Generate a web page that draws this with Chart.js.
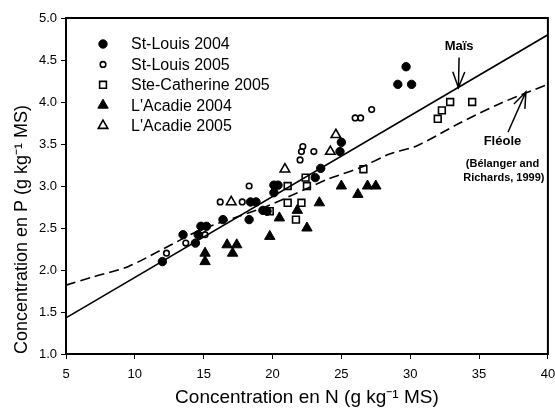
<!DOCTYPE html>
<html>
<head>
<meta charset="utf-8">
<script src="https://cdn.jsdelivr.net/npm/chart.js@4.4.1/dist/chart.umd.min.js"></script>
<style>
  html, body { margin: 0; padding: 0; background: #fff; }
</style>
</head>
<body>
<canvas id="npChart" width="555" height="411"></canvas>
<script>
  // Concentration en N (x) et en P (y), g/kg MS
  const stLouis2004N = [12.0, 13.5, 14.4, 14.6, 14.8, 15.2, 16.4, 18.3, 18.4, 18.8, 19.3, 19.6, 20.1, 20.1, 20.4, 23.1, 23.5, 24.9, 25.0, 29.1, 29.7, 30.1];
  const stLouis2004P = [2.10, 2.42, 2.32, 2.42, 2.52, 2.52, 2.60, 2.60, 2.81, 2.81, 2.71, 2.70, 2.92, 3.01, 3.01, 3.10, 3.21, 3.41, 3.52, 4.21, 4.42, 4.21];

  const stLouis2005N = [12.3, 13.7, 15.1, 16.2, 17.8, 18.3, 22.0, 22.1, 22.2, 23.0, 26.0, 26.4, 27.2];
  const stLouis2005P = [2.20, 2.32, 2.42, 2.81, 2.81, 3.00, 3.31, 3.41, 3.47, 3.41, 3.81, 3.81, 3.91];

  const steCatherine2005N = [19.8, 21.1, 21.1, 21.7, 22.1, 22.4, 22.5, 26.6, 32.0, 32.3, 32.9, 34.5];
  const steCatherine2005P = [2.70, 3.00, 2.80, 2.60, 2.80, 3.10, 3.00, 3.20, 3.80, 3.90, 4.00, 4.00];

  const lAcadie2004N = [15.1, 15.1, 16.7, 17.4, 17.1, 19.8, 20.5, 21.8, 22.5, 23.4, 25.0, 26.2, 26.9, 27.5];
  const lAcadie2004P = [2.20, 2.10, 2.30, 2.30, 2.20, 2.40, 2.62, 2.71, 2.50, 2.80, 3.00, 2.90, 3.00, 3.00];

  const lAcadie2005N = [17.0, 20.9, 24.2, 24.6];
  const lAcadie2005P = [2.81, 3.20, 3.41, 3.61];

  // droite du maïs
  const maisN = [5, 40];
  const maisP = [1.43, 4.80];

  // courbe fléole (Bélanger and Richards, 1999)
  const fleoleN = [5, 7, 9.5, 12.4, 14.8, 17.4, 19.6, 22.5, 24, 26.4, 28.5, 30.5, 33.6, 36.5, 40];
  const fleoleP = [1.82, 1.92, 2.04, 2.28, 2.48, 2.63, 2.76, 2.97, 3.08, 3.22, 3.38, 3.48, 3.75, 3.98, 4.21];

  // annotations (en unités des axes)
  const maisLabelAt = [33.55, 4.66];
  const maisArrowFrom = [33.55, 4.53];
  const maisArrowTo = [33.5, 4.17];
  const fleoleLabelAt = [36.7, 3.53];
  const refLine1At = [36.7, 3.26];
  const refLine2At = [36.8, 3.095];
  const fleoleArrowFrom = [37.1, 3.64];
  const fleoleArrowTo = [38.4, 4.12];

  const FONT = 'Arial, "Liberation Sans", Helvetica, sans-serif';
  Chart.defaults.font.family = FONT;
  Chart.defaults.color = "#000";

  function pts(xs, ys) {
    return xs.map((x, i) => ({ x: x, y: ys[i] }));
  }

  function drawArrow(ctx, x1, y1, x2, y2) {
    const ang = Math.atan2(y2 - y1, x2 - x1);
    const len = 17;
    ctx.beginPath();
    ctx.moveTo(x1, y1);
    ctx.lineTo(x2, y2);
    ctx.moveTo(x2 - len * Math.cos(ang - 0.36), y2 - len * Math.sin(ang - 0.36));
    ctx.lineTo(x2, y2);
    ctx.lineTo(x2 - len * Math.cos(ang + 0.36), y2 - len * Math.sin(ang + 0.36));
    ctx.stroke();
  }

  // cadre autour de la zone du graphique
  const framePlugin = {
    id: "frame",
    afterDatasetsDraw(chart) {
      const { ctx, chartArea: a } = chart;
      ctx.save();
      ctx.strokeStyle = "#000";
      ctx.lineWidth = 2;
      ctx.strokeRect(a.left, a.top, a.right - a.left, a.bottom - a.top);
      ctx.restore();
    },
  };

  // légende dans le coin haut gauche
  const legendPlugin = {
    id: "insideLegend",
    afterDatasetsDraw(chart) {
      const { ctx, chartArea: a } = chart;
      ctx.save();
      ctx.font = "16px " + FONT;
      ctx.textAlign = "left";
      ctx.textBaseline = "middle";
      chart.data.datasets.slice(0, 5).forEach((ds, i) => {
        const yy = a.top + 26 + i * 20.4;
        ctx.fillStyle = ds.backgroundColor;
        ctx.strokeStyle = ds.borderColor;
        ctx.lineWidth = ds.borderWidth;
        Chart.helpers.drawPoint(ctx, {
          pointStyle: ds.pointStyle,
          radius: ds.pointRadius,
          borderWidth: ds.borderWidth,
          rotation: 0,
        }, a.left + 37, yy);
        ctx.fillStyle = "#000";
        ctx.fillText(ds.label, a.left + 65, yy + 1);
      });
      ctx.restore();
    },
  };

  const annotationPlugin = {
    id: "annotations",
    afterDatasetsDraw(chart) {
      const { ctx } = chart;
      const sx = chart.scales.x, sy = chart.scales.y;
      const px = (p) => [sx.getPixelForValue(p[0]), sy.getPixelForValue(p[1])];
      ctx.save();
      ctx.fillStyle = "#000";
      ctx.strokeStyle = "#000";
      ctx.lineWidth = 1.5;
      ctx.textAlign = "center";
      ctx.textBaseline = "middle";

      ctx.font = "bold 13px " + FONT;
      let p = px(maisLabelAt);
      ctx.fillText("Maïs", p[0], p[1]);
      let a = px(maisArrowFrom), b = px(maisArrowTo);
      drawArrow(ctx, a[0], a[1], b[0], b[1]);

      p = px(fleoleLabelAt);
      ctx.fillText("Fléole", p[0], p[1]);
      a = px(fleoleArrowFrom);
      b = px(fleoleArrowTo);
      drawArrow(ctx, a[0], a[1], b[0], b[1]);

      ctx.font = "bold 11px " + FONT;
      p = px(refLine1At);
      ctx.fillText("(Bélanger and", p[0], p[1]);
      p = px(refLine2At);
      ctx.fillText("Richards, 1999)", p[0], p[1]);
      ctx.restore();
    },
  };

  const ctx = document.getElementById("npChart").getContext("2d");
  new Chart(ctx, {
    type: "scatter",
    data: {
      datasets: [
        {
          label: "St-Louis 2004",
          data: pts(stLouis2004N, stLouis2004P),
          pointStyle: "circle",
          pointRadius: 4.2,
          backgroundColor: "#000",
          borderColor: "#000",
          borderWidth: 1,
        },
        {
          label: "St-Louis 2005",
          data: pts(stLouis2005N, stLouis2005P),
          pointStyle: "circle",
          pointRadius: 2.8,
          backgroundColor: "rgba(0,0,0,0)",
          borderColor: "#000",
          borderWidth: 1.6,
        },
        {
          label: "Ste-Catherine 2005",
          data: pts(steCatherine2005N, steCatherine2005P),
          pointStyle: "rect",
          pointRadius: 4.8,
          backgroundColor: "rgba(0,0,0,0)",
          borderColor: "#000",
          borderWidth: 1.6,
        },
        {
          label: "L'Acadie 2004",
          data: pts(lAcadie2004N, lAcadie2004P),
          pointStyle: "triangle",
          pointRadius: 6,
          backgroundColor: "#000",
          borderColor: "#000",
          borderWidth: 1,
        },
        {
          label: "L'Acadie 2005",
          data: pts(lAcadie2005N, lAcadie2005P),
          pointStyle: "triangle",
          pointRadius: 5.5,
          backgroundColor: "rgba(0,0,0,0)",
          borderColor: "#000",
          borderWidth: 1.6,
        },
        {
          label: "Maïs",
          data: pts(maisN, maisP),
          showLine: true,
          borderColor: "#000",
          borderWidth: 1.6,
          pointRadius: 0,
          fill: false,
        },
        {
          label: "Fléole",
          data: pts(fleoleN, fleoleP),
          showLine: true,
          borderColor: "#000",
          borderWidth: 1.6,
          borderDash: [10, 5],
          pointRadius: 0,
          tension: 0.3,
          fill: false,
        },
      ],
    },
    options: {
      responsive: false,
      animation: false,
      layout: { padding: { top: 18, right: 7, bottom: 0, left: 0 } },
      plugins: {
        legend: { display: false },
        tooltip: { enabled: false },
      },
      scales: {
        x: {
          type: "linear",
          min: 5,
          max: 40,
          ticks: { stepSize: 5, font: { size: 13 }, padding: 8 },
          grid: { drawOnChartArea: false, drawTicks: true, tickLength: 5, color: "#000" },
          border: { color: "#000", width: 2 },
          title: {
            display: true,
            text: "Concentration en N (g kg\u207B\u00B9 MS)",
            font: { size: 19 },
            padding: { top: 0, bottom: 2 },
          },
          afterFit: (s) => {
            s.height = 57;
            s.paddingLeft = 0;
            s.paddingRight = 0;
          },
        },
        y: {
          type: "linear",
          min: 1,
          max: 5,
          ticks: { stepSize: 0.5, font: { size: 13 }, padding: 4, callback: (v) => v.toFixed(1) },
          grid: { drawOnChartArea: false, drawTicks: true, tickLength: 5, color: "#000" },
          border: { color: "#000", width: 2 },
          title: {
            display: true,
            text: "Concentration en P (g kg\u207B\u00B9 MS)",
            font: { size: 18 },
            align: "start",
            padding: { top: 11, bottom: 0 },
          },
          afterFit: (s) => {
            s.width = 66;
            s.paddingTop = 0;
            s.paddingBottom = 0;
          },
        },
      },
    },
    plugins: [framePlugin, legendPlugin, annotationPlugin],
  });
</script>
</body>
</html>
